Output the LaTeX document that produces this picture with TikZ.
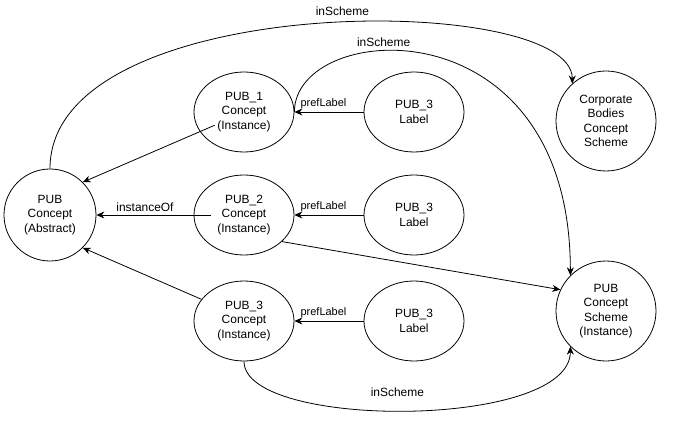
\documentclass[tikz,border=0pt]{standalone}
\usepackage{fontspec}
\setmainfont{Liberation Sans}
\usetikzlibrary{shapes.geometric, arrows.meta, positioning}

\begin{document}
\begin{tikzpicture}[>={Stealth[length=8bp, width=7bp]}, line width=0.8pt, font=\fontsize{12}{14.5}\selectfont, concept/.style={ellipse, draw, minimum width=100bp, minimum height=80bp, align=center, inner sep=2bp}, abstractnode/.style={circle, draw, minimum size=92bp, align=center, inner sep=2bp}, schemenode/.style={circle, draw, minimum size=100bp, align=center, inner sep=2bp}, edgelbl/.style={font=\fontsize{11}{13}\selectfont}]

  \useasboundingbox (-50bp,215bp) rectangle (624bp,-206bp);

  \node[abstractnode] (abstract) at (0,0) {PUB\\Concept\\(Abstract)};
  \node[concept, right of=abstract, node distance=194bp] (pub2) {PUB\_2\\Concept\\(Instance)};
  \node[concept, above of=pub2, node distance=103bp] (pub1) {PUB\_1\\Concept\\(Instance)};
  \node[concept, below of=pub2, node distance=106bp] (pub3) {PUB\_3\\Concept\\(Instance)};
  \node[concept, right of=pub1, node distance=170bp] (lbl1) {PUB\_3\\Label};
  \node[concept, right of=pub2, node distance=170bp] (lbl2) {PUB\_3\\Label};
  \node[concept, right of=pub3, node distance=170bp] (lbl3) {PUB\_3\\Label};
  \node[schemenode, right of=lbl1, node distance=192bp, yshift=-9bp] (corpscheme) {Corporate\\Bodies\\Concept\\Scheme};
  \node[schemenode, right of=lbl3, node distance=192bp, yshift=10bp] (pubscheme) {PUB\\Concept\\Scheme\\(Instance)};

  \draw[->, shorten <=-16bp] (pub1.204) -- (abstract.45);
  \draw[->, shorten <=-17bp] (pub2) -- node[above, pos=0.5] {instanceOf} (abstract);
  \draw[->] (pub3.153) -- (abstract.-45);
  \draw[->] (lbl1) -- node[edgelbl, above, pos=0.58] {prefLabel} (pub1);
  \draw[->] (lbl2) -- node[edgelbl, above, pos=0.58] {prefLabel} (pub2);
  \draw[->] (lbl3) -- node[edgelbl, above, pos=0.58] {prefLabel} (pub3);
  \draw[->] (pub2.-35) -- (pubscheme.155);
  \draw[->] (abstract.north) .. controls +(0,179bp) and +(0,92bp) .. node[above=3bp, pos=0.54] {inScheme} (corpscheme.132);
  \draw[->] (pub1.east) .. controls +(0,92bp) and +(0,275bp) .. node[above, pos=0.38] {inScheme} (pubscheme.135);
  \draw[->] (pub3.south) .. controls +(0,-68bp) and +(0,-83bp) .. node[above=10bp, pos=0.48] {inScheme} (pubscheme.225);
\end{tikzpicture}
\end{document}
